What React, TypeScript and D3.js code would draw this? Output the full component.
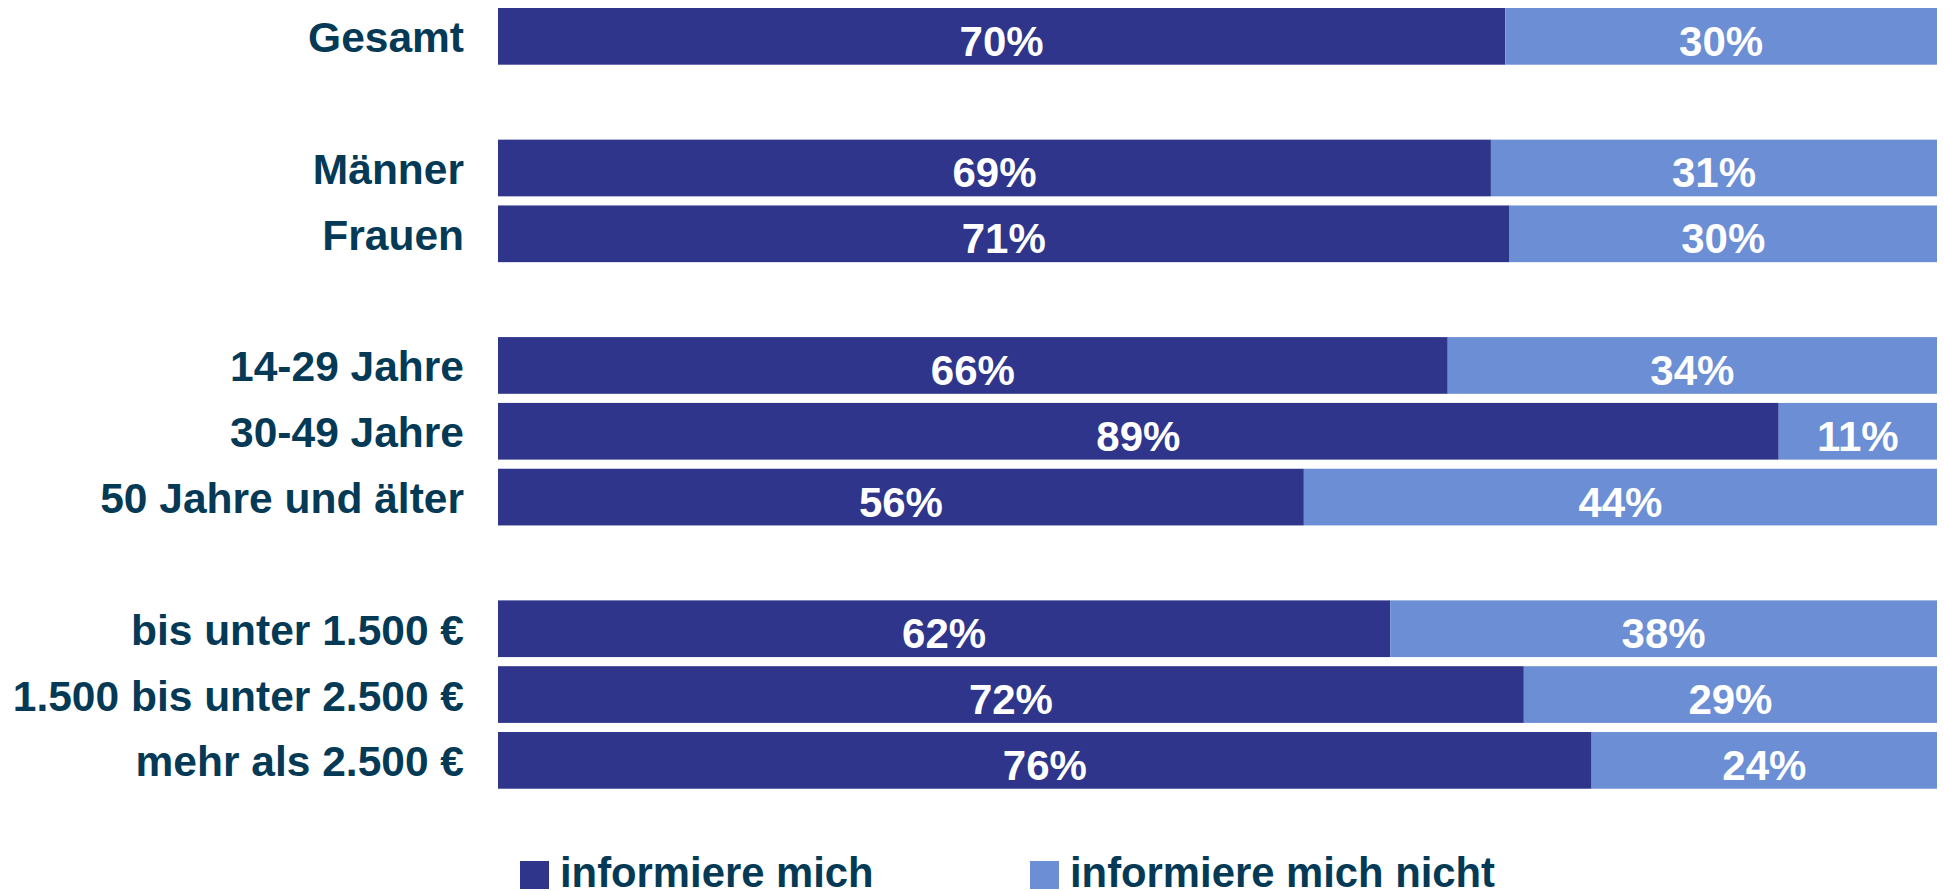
import React from "react";
import * as d3 from "d3";

const groups: string[][] = [
  ["Gesamt"],
  ["Männer", "Frauen"],
  ["14-29 Jahre", "30-49 Jahre", "50 Jahre und älter"],
  ["bis unter 1.500 €", "1.500 bis unter 2.500 €", "mehr als 2.500 €"],
];
const informiere = [70, 69, 71, 66, 89, 56, 62, 72, 76];
const nicht = [30, 31, 30, 34, 11, 44, 38, 29, 24];
const seriesNames = ["informiere mich", "informiere mich nicht"];
const seriesKeys = ["a", "b"];

const COLORS = ["#2e358b", "#6b8ed4"];
const TEXT = "#053a56";
const FONT = "'Liberation Sans', Arial, Helvetica, sans-serif";

export default function App() {
  const W = 1944;
  const H = 891;

  const slots: string[] = [];
  const cats: string[] = [];
  groups.forEach((g, gi) => {
    if (gi > 0) slots.push(`__gap${gi}`);
    g.forEach((c) => {
      slots.push(c);
      cats.push(c);
    });
  });

  const step = 65.82;
  const padInner = 1 - 56.7 / step;
  const r0 = 8 - step * (padInner / 2);
  const y = d3
    .scaleBand<string>()
    .domain(slots)
    .range([r0, r0 + slots.length * step])
    .paddingInner(padInner)
    .paddingOuter(padInner / 2);

  const x = d3.scaleLinear().domain([0, 1]).range([498, 1937]);

  const rows = cats.map((c, i) => ({ cat: c, a: informiere[i], b: nicht[i] }));
  const stack = d3
    .stack<any>()
    .keys(seriesKeys)
    .offset(d3.stackOffsetExpand);
  const stacked = stack(rows);

  const bw = y.bandwidth();

  return (
    <svg
      width={W}
      height={H}
      style={{ position: "absolute", left: 0, top: 0, background: "#fff" }}
      fontFamily={FONT}
      fontWeight="bold"
    >
      <rect width={W} height={H} fill="#fff" />
      {stacked.map((s, si) => (
        <g key={s.key}>
          {s.map((d, i) => {
            const yy = y(rows[i].cat)!;
            const x0 = x(d[0]);
            const x1 = x(d[1]);
            const val = (rows[i] as any)[s.key];
            return (
              <g key={i}>
                <rect x={x0} y={yy} width={x1 - x0} height={bw} fill={COLORS[si]} />
                <text
                  x={(x0 + x1) / 2}
                  y={yy + bw / 2 + 19.5}
                  textAnchor="middle"
                  fontSize={42}
                  fill="#fff"
                >
                  {`${val}%`}
                </text>
              </g>
            );
          })}
        </g>
      ))}
      {cats.map((c) => (
        <text
          key={c}
          x={464}
          y={y(c)! + bw / 2 + 16}
          textAnchor="end"
          fontSize={42.5}
          fill={TEXT}
        >
          {c}
        </text>
      ))}
      {seriesNames.map((n, i) => {
        const lx = [520, 1030][i];
        return (
          <g key={n}>
            <rect x={lx} y={861} width={29} height={28} fill={COLORS[i]} />
            <text x={lx + 40} y={887} fontSize={41.8} fill={TEXT}>
              {n}
            </text>
          </g>
        );
      })}
    </svg>
  );
}
